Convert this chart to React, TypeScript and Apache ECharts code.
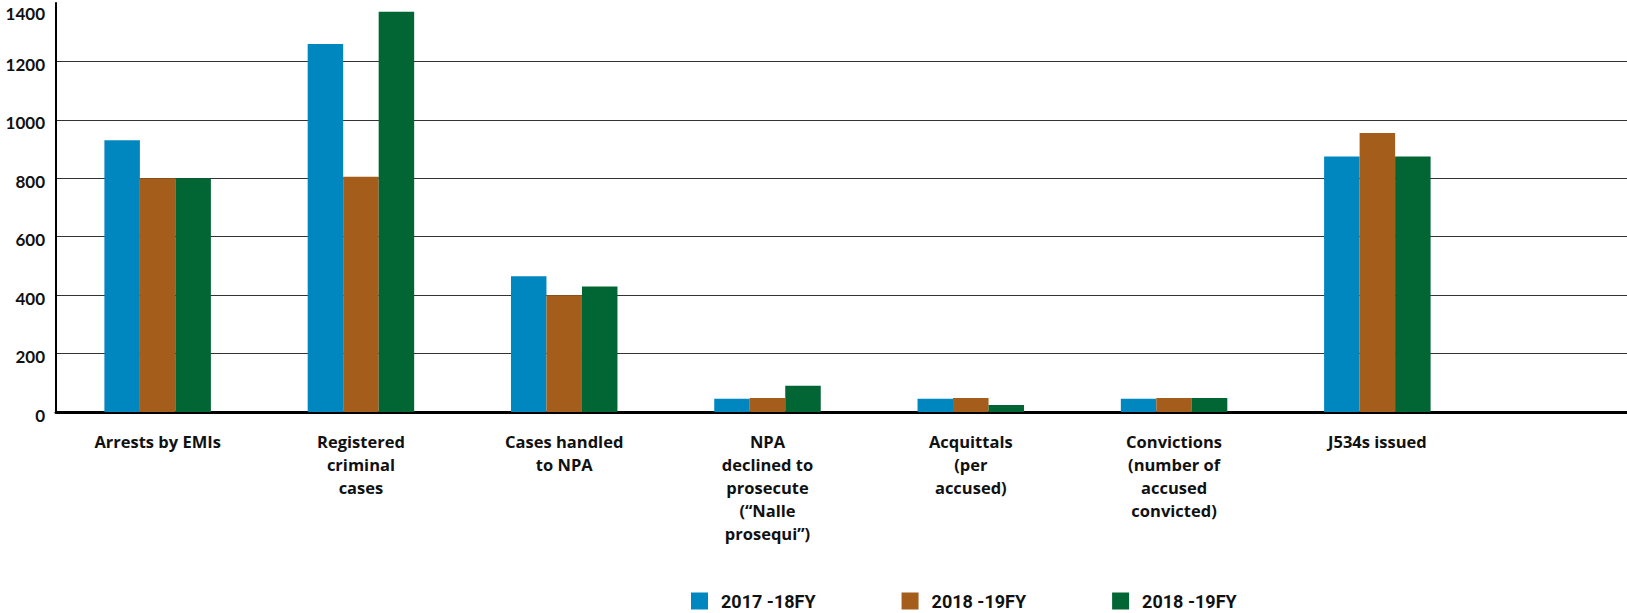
import React, { useEffect, useRef } from "react";
import * as echarts from "echarts";

const categories = [
  "Arrests by EMIs",
  "Registered\ncriminal\ncases",
  "Cases handled\nto NPA",
  "NPA\ndeclined to\nprosecute\n(\u201cNalle\nprosequi\u201d)",
  "Acquittals\n(per\naccused)",
  "Convictions\n(number of\naccused\nconvicted)",
  "J534s issued",
];

const seriesNames = ["2017 -18FY", "2018 -19FY", "2018 -19FY"];
const fy2017_18 = [930, 1260, 465, 45, 45, 45, 875];
const fy2018_19a = [800, 805, 400, 48, 48, 48, 955];
const fy2018_19b = [800, 1370, 430, 90, 24, 48, 875];
const yTicks = { min: 0, max: 1400, interval: 200 };

const colors = ["#0087C0", "#A45D1A", "#016634"];
const FONT = "Lato";

export default function App() {
  const ref = useRef<HTMLDivElement>(null);
  useEffect(() => {
    if (!ref.current) return;
    const chart = echarts.init(ref.current, null, { renderer: "svg" });
    const values = [fy2017_18, fy2018_19a, fy2018_19b];
    const top = 3;
    const bottom = 201;
    chart.setOption({
      animation: false,
      grid: [
        { left: 56, right: 148, top, bottom },
        { left: 56, right: 0, top, bottom },
      ],
      xAxis: [
        {
          type: "category",
          gridIndex: 0,
          data: categories,
          axisLine: { show: false },
          axisTick: { show: false },
          axisLabel: {
            interval: 0,
            margin: 18,
            color: "#111",
            fontFamily: "Open Sans",
            fontWeight: "bold",
            fontSize: 16.5,
            lineHeight: 23,
            align: "center",
          },
        },
        {
          type: "value",
          gridIndex: 1,
          min: 0,
          max: 1,
          axisLine: { show: true, onZero: false, lineStyle: { color: "#000", width: 3 } },
          axisTick: { show: false },
          axisLabel: { show: false },
          splitLine: { show: false },
        },
      ],
      yAxis: [
        {
          type: "value",
          gridIndex: 0,
          min: yTicks.min,
          max: yTicks.max,
          interval: yTicks.interval,
          show: false,
          splitLine: { show: false },
        },
        {
          type: "value",
          gridIndex: 1,
          min: yTicks.min,
          max: yTicks.max,
          interval: yTicks.interval,
          axisLine: { show: true, lineStyle: { color: "#000", width: 2 } },
          axisTick: { show: false },
          splitLine: {
            show: true,
            showMaxLine: false,
            showMinLine: false,
            lineStyle: { color: "#333", width: 1.2 },
          },
          axisLabel: {
            margin: 11,
            color: "#111",
            fontFamily: FONT,
            fontWeight: "bold",
            fontSize: 17,
            padding: [6, 0, 0, 0],
            formatter: (v: number) => (v === yTicks.max ? `{t|${v}}` : `${v}`),
            rich: {
              t: {
                padding: [14, 0, 0, 0],
                fontFamily: FONT,
                fontWeight: "bold",
                fontSize: 17,
                color: "#111",
              },
            },
          },
        },
      ],
      legend: {
        left: 691,
        bottom: 2,
        padding: 0,
        itemWidth: 17,
        itemHeight: 17,
        itemGap: 86,
        icon: "rect",
        data: seriesNames.map((n, i) => n + " ".repeat(i)),
        formatter: (name: string) => name.trim(),
        textStyle: {
          fontFamily: "Roboto",
          fontWeight: "bold",
          fontSize: 18,
          lineHeight: 20,
          color: "#111",
          padding: [0, 0, 0, 8],
        },
      },
      series: seriesNames.map((n, i) => ({
        name: n + " ".repeat(i),
        type: "bar",
        xAxisIndex: 0,
        yAxisIndex: 0,
        data: values[i],
        barWidth: 35.5,
        barGap: "0%",
        itemStyle: { color: colors[i] },
      })),
    });
    return () => chart.dispose();
  }, []);
  return (
    <div
      ref={ref}
      style={{ position: "fixed", left: 0, top: 0, width: 1627, height: 613, background: "#fff" }}
    />
  );
}
